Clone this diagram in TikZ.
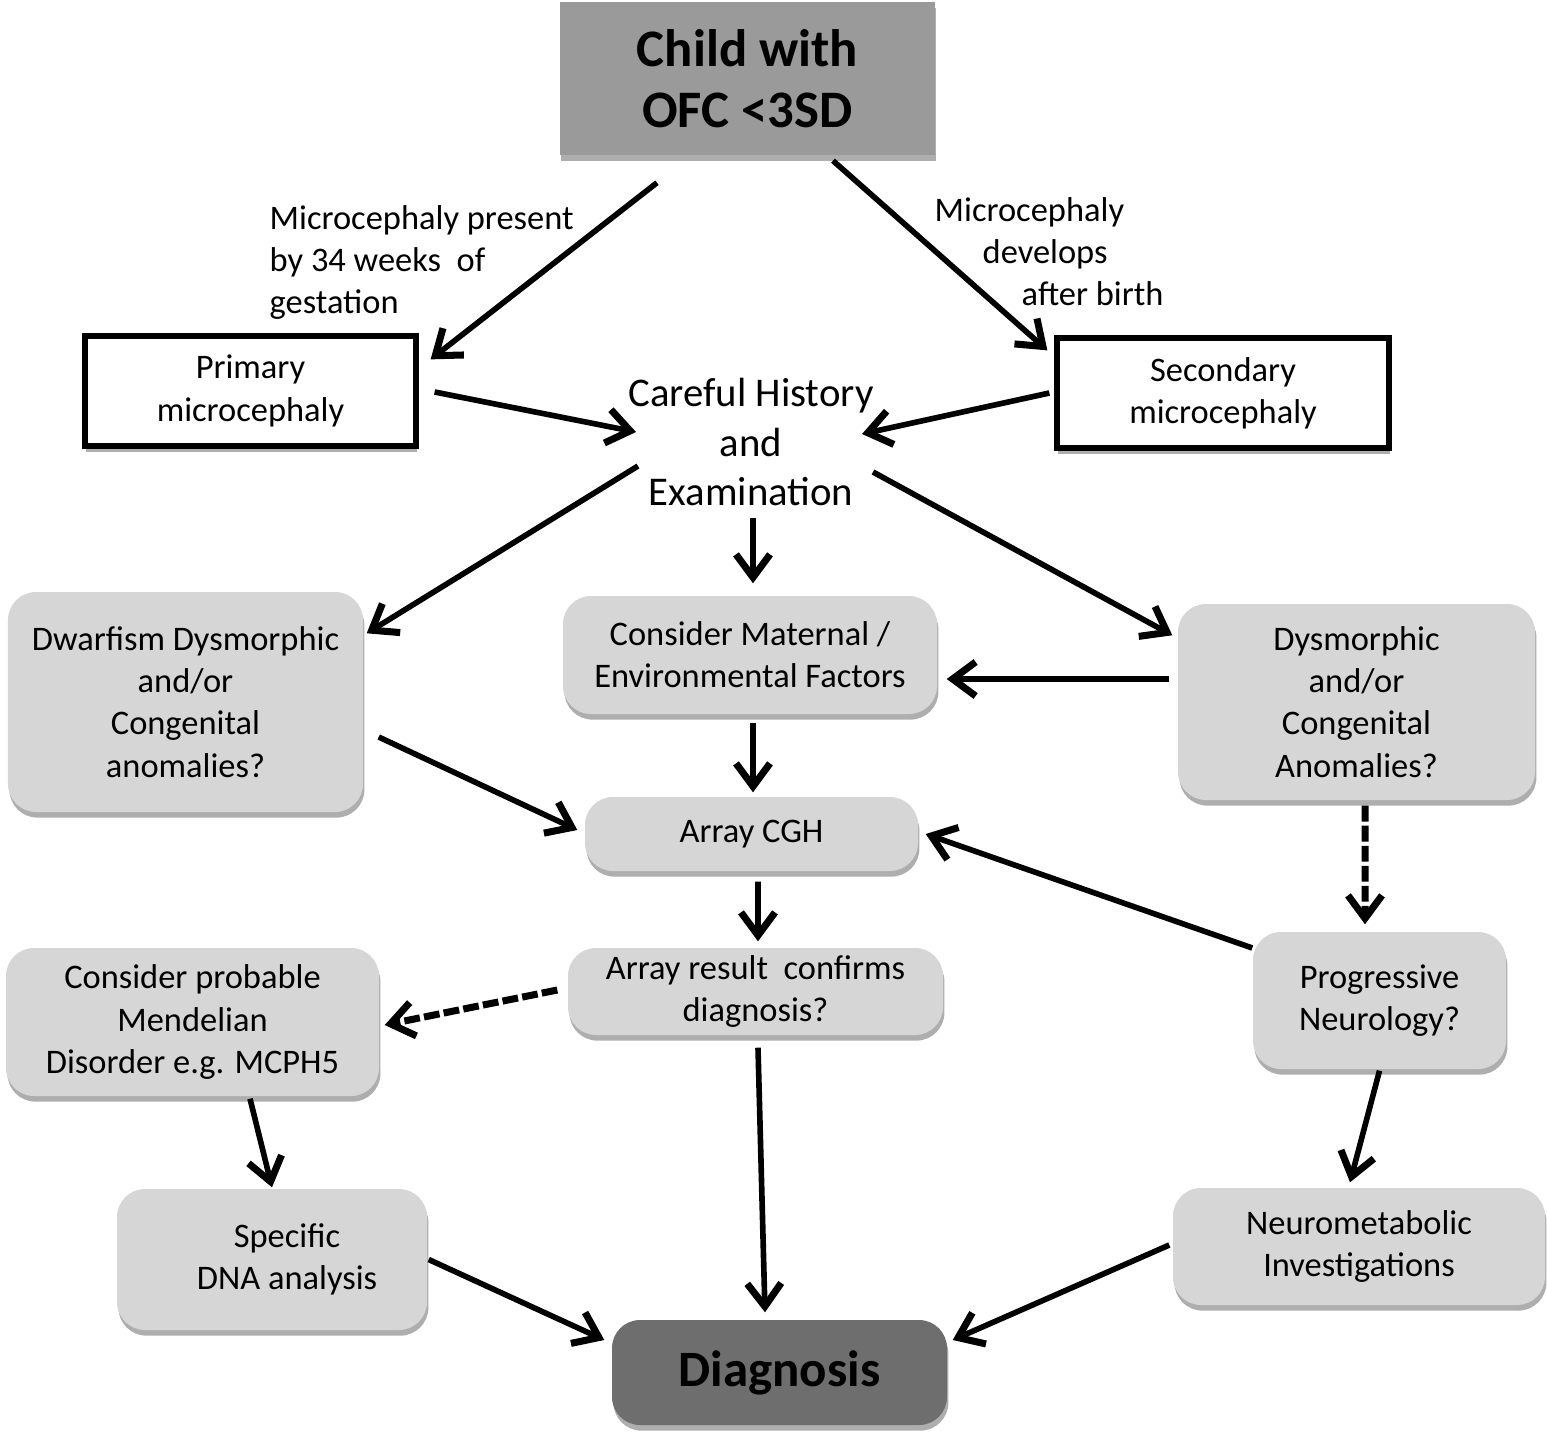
\documentclass[tikz,border=0pt]{standalone}
\usepackage{fontspec}
\setmainfont{Carlito}
\usetikzlibrary{arrows.meta,shadows,calc}
\definecolor{lightbox}{HTML}{D6D6D6}
\definecolor{topbox}{HTML}{9A9A9A}
\definecolor{diagbox}{HTML}{6E6E6E}
\begin{document}
\begin{tikzpicture}[
  txt/.style={font=\fontsize{9.8}{12}\selectfont},
  shad/.style={drop shadow={shadow xshift=0.4pt,shadow yshift=-1.6pt,opacity=0.45,fill=black!70}},
  rbox/.style={txt,shad,fill=lightbox,rounded corners=0.28cm,align=center,inner sep=0pt},
  wbox/.style={txt,shad,fill=white,draw=black,line width=1.5pt,align=center,inner sep=0pt},
  conn/.style={line width=1.6pt,-{Straight Barb[length=2.3mm,width=3.4mm,line width=2pt]}},
  dconn/.style={conn,line width=2pt,dash pattern=on 4.5pt off 1.2pt},
  lab/.style={txt,anchor=north west,align=left,inner sep=0pt}
]
\useasboundingbox (0,0) rectangle (15.47,-14.32);

% nodes
\node[shad,fill=topbox,minimum width=3.75cm,minimum height=1.53cm,inner sep=0pt,align=center,
      font=\fontsize{15}{17.5}\selectfont\bfseries] (top) at (7.475,-0.785) {Child with\\OFC <3SD};
\node[wbox,minimum width=3.31cm,minimum height=1.10cm] (prim) at (2.505,-3.91) {Primary\\microcephaly};
\node[wbox,minimum width=3.32cm,minimum height=1.10cm] (sec) at (12.23,-3.93) {Secondary\\microcephaly};
\node[font=\fontsize{11.6}{14.2}\selectfont,align=center,inner sep=0pt] (hist) at (7.51,-4.42) {Careful History\\and\\Examination};
\node[rbox,minimum width=3.55cm,minimum height=2.20cm] (dwarf) at (1.855,-7.02) {Dwarfism Dysmorphic\\and/or\\Congenital\\anomalies?};
\node[rbox,minimum width=3.74cm,minimum height=1.18cm] (mat) at (7.50,-6.55) {Consider Maternal /\\Environmental Factors};
\node[rbox,minimum width=3.57cm,minimum height=1.96cm] (dysm) at (13.565,-7.02) {Dysmorphic\\and/or\\Congenital\\Anomalies?};
\node[rbox,minimum width=3.33cm,minimum height=0.74cm] (cgh) at (7.515,-8.34) {Array CGH};
\node[rbox,minimum width=3.75cm,minimum height=0.87cm] (ares) at (7.555,-9.915) {Array result\ \ confirms\\diagnosis?};
\node[rbox,minimum width=3.73cm,minimum height=1.48cm] (mend) at (1.925,-10.22) {Consider probable\\Mendelian\\Disorder e.g. MCPH5};
\node[rbox,minimum width=2.53cm,minimum height=1.37cm] (prog) at (13.795,-10.005) {Progressive\\Neurology?};
\node[rbox,minimum width=3.10cm,minimum height=1.41cm] (dna) at (2.72,-12.595) {\hspace*{0.3cm}Specific\\\hspace*{0.3cm}DNA analysis};
\node[rbox,minimum width=3.72cm,minimum height=1.17cm] (neuro) at (13.59,-12.465) {Neurometabolic\\Investigations};
\node[rbox,fill=diagbox,minimum width=3.35cm,minimum height=1.05cm,font=\fontsize{14.5}{17}\selectfont\bfseries] (diag) at (7.795,-13.725) {Diagnosis};

% edge labels
\node[lab] (l1) at (2.69,-2.05) {Microcephaly present\\by 34 weeks\ \ of\\gestation};
\node[lab] (l2) at (9.34,-1.97) {Microcephaly\\\hspace*{0.48cm}develops\\\hspace*{0.87cm}after birth};

% connectors
\draw[conn] ([xshift=-0.905cm,yshift=-0.27cm]top.south) -- ([xshift=0.12cm,yshift=-0.26cm]prim.north east);
\draw[conn] ([xshift=0.855cm,yshift=-0.05cm]top.south) -- ([xshift=-0.07cm,yshift=-0.15cm]sec.north west);
\draw[conn] ([xshift=0.16cm,yshift=-0.01cm]prim.east) -- ([xshift=-1.15cm,yshift=0.10cm]hist.center);
\draw[conn] ([xshift=-0.05cm]sec.west) -- ([xshift=1.11cm,yshift=0.08cm]hist.center);
\draw[conn] ([xshift=-1.13cm,yshift=-0.24cm]hist.center) -- ([xshift=0.03cm,yshift=-0.42cm]dwarf.north east);
\draw[conn] ([xshift=0.02cm,yshift=-0.76cm]hist.center) -- ([xshift=0.03cm,yshift=0.12cm]mat.north);
\draw[conn] ([xshift=1.22cm,yshift=-0.30cm]hist.center) -- ([xshift=-0.05cm,yshift=-0.32cm]dysm.north west);
\draw[conn] ([xshift=-0.08cm,yshift=0.23cm]dysm.west) -- ([xshift=0.09cm,yshift=-0.24cm]mat.east);
\draw[conn] ([xshift=0.03cm,yshift=-0.08cm]mat.south) -- ([xshift=0.015cm,yshift=0.04cm]cgh.north);
\draw[conn] ([xshift=0.15cm,yshift=-0.35cm]dwarf.east) -- ([xshift=-0.07cm,yshift=0.04cm]cgh.west);
\draw[conn] ([yshift=0.525cm]prog.west) -- ([xshift=0.07cm]cgh.east);
\draw[dconn] ([xshift=0.085cm,yshift=-0.05cm]dysm.south) -- ([xshift=-0.145cm,yshift=0.07cm]prog.north);
\draw[conn] ([xshift=0.065cm,yshift=-0.10cm]cgh.south) -- ([xshift=0.025cm,yshift=0.06cm]ares.north);
\draw[dconn] ([xshift=-0.10cm,yshift=0.015cm]ares.west) -- ([xshift=0.05cm,yshift=-0.03cm]mend.east);
\draw[conn] ([xshift=0.025cm,yshift=-0.12cm]ares.south) -- ([xshift=-0.145cm,yshift=0.07cm]diag.north);
\draw[conn] ([xshift=0.575cm,yshift=-0.02cm]mend.south) -- ([yshift=0.01cm]dna.north);
\draw[conn] ([xshift=0.01cm]dna.east) -- ([xshift=-0.07cm,yshift=0.325cm]diag.west);
\draw[conn] ([yshift=-0.01cm]prog.south) -- ([xshift=-0.09cm,yshift=0.05cm]neuro.north);
\draw[conn] ([xshift=-0.03cm,yshift=0.015cm]neuro.west) -- ([xshift=0.05cm,yshift=0.325cm]diag.east);
\end{tikzpicture}
\end{document}
